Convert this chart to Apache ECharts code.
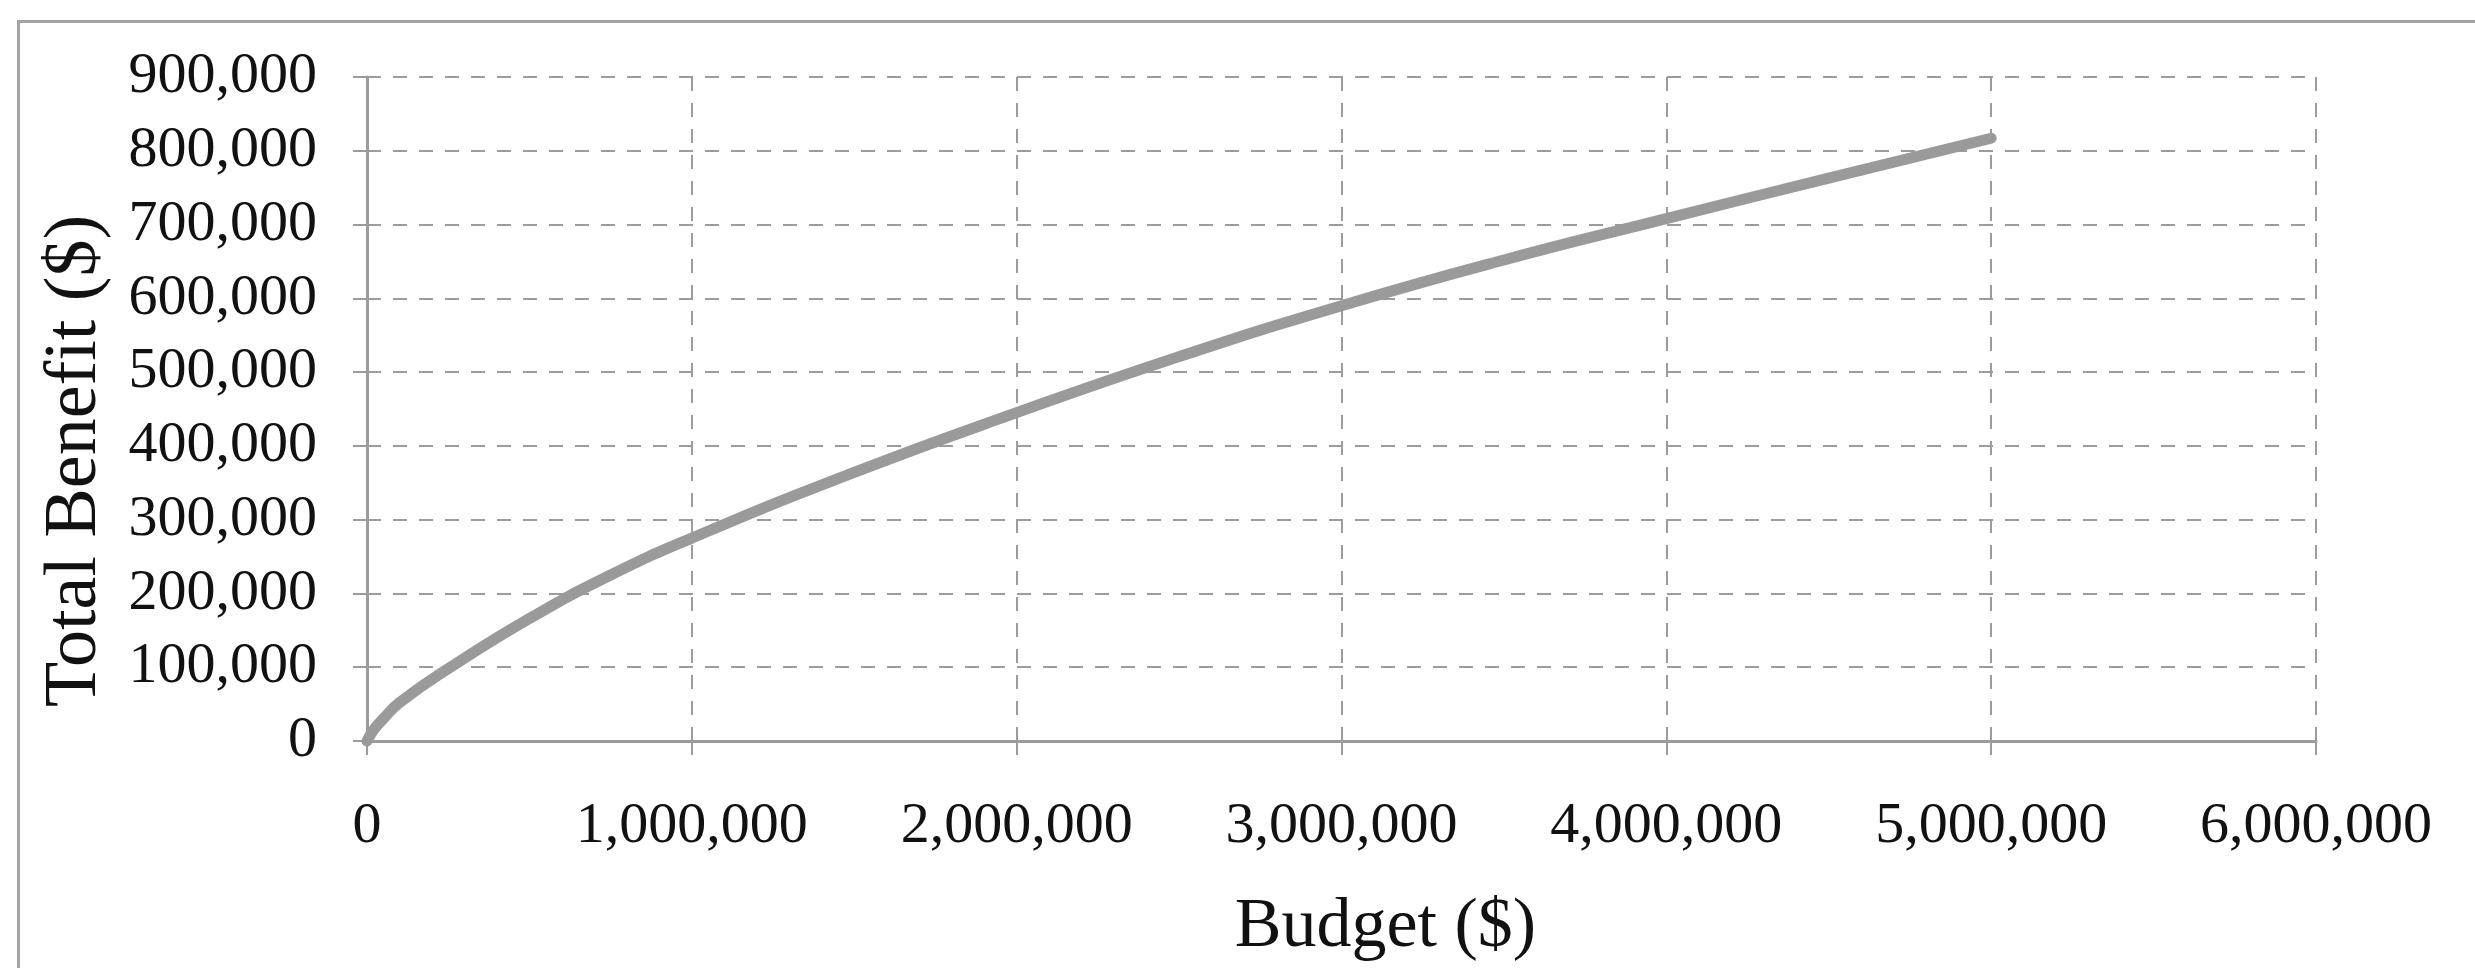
<!DOCTYPE html>
<html>
<head>
<meta charset="utf-8">
<script src="https://cdn.jsdelivr.net/npm/echarts@6/dist/echarts.min.js"></script>
<style>
  html, body { margin: 0; padding: 0; background: #fff; }
  #chart { position: absolute; left: 0; top: 0; width: 2475px; height: 968px; }
  #frame {
    position: absolute; left: 17px; top: 20px; right: 0; bottom: 0;
    border-top: 3px solid #a3a3a3; border-left: 3px solid #a3a3a3;
    pointer-events: none;
  }
</style>
</head>
<body>
<div id="chart"></div>
<div id="frame"></div>
<script>
// budget ($) vs total benefit ($)
const budget = [0, 20000, 50000, 100000, 250000, 500000, 750000, 1000000,
  1500000, 2000000, 2500000, 3000000, 3500000, 4000000, 4500000, 5000000]
const benefit = [0, 15000, 30000, 52000, 98000, 166000, 225000, 275000,
  364000, 445000, 521000, 590000, 652000, 708000, 763000, 817000]

const xTicks = [0, 1000000, 2000000, 3000000, 4000000, 5000000, 6000000]
const yTicks = [0, 100000, 200000, 300000, 400000, 500000, 600000, 700000, 800000, 900000]

const font = '"Liberation Serif", "DejaVu Serif", serif'
const gridColor = '#9c9c9c'
const fmt = v => v.toLocaleString('en-US')

const chart = echarts.init(document.getElementById('chart'), null, { renderer: 'canvas' })

const axisCommon = {
  type: 'value',
  nameLocation: 'middle',
  axisLine: { show: true, lineStyle: { color: gridColor, width: 3 } },
  axisTick: { show: true, inside: false, length: 14, lineStyle: { color: gridColor, width: 2 } },
  splitLine: { show: true, lineStyle: { color: gridColor, width: 2, type: [14, 12] } },
  axisLabel: { color: '#111', fontFamily: font, fontSize: 58, margin: 50, formatter: fmt },
  nameTextStyle: { color: '#111', fontFamily: font, fontSize: 70 }
}

chart.setOption({
  backgroundColor: '#fff',
  animation: false,
  grid: { left: 367, right: 159, top: 77, bottom: 222, containLabel: false },
  xAxis: {
    ...axisCommon,
    min: xTicks[0],
    max: xTicks[xTicks.length - 1],
    interval: xTicks[1] - xTicks[0],
    axisLabel: { ...axisCommon.axisLabel, margin: 57 },
    name: 'Budget ($)',
    nameGap: 152,
    nameTextStyle: { ...axisCommon.nameTextStyle, padding: [0, 0, 0, 88] }
  },
  yAxis: {
    ...axisCommon,
    min: yTicks[0],
    max: yTicks[yTicks.length - 1],
    interval: yTicks[1] - yTicks[0],
    name: 'Total Benefit ($)',
    nameGap: 254,
    nameTextStyle: { ...axisCommon.nameTextStyle, fontSize: 74, padding: [0, 104, 0, 0] }
  },
  series: [{
    type: 'line',
    data: budget.map((b, i) => [b, benefit[i]]),
    smooth: true,
    showSymbol: false,
    lineStyle: { color: '#9a9a9a', width: 11, cap: 'round' }
  }]
})
</script>
</body>
</html>
